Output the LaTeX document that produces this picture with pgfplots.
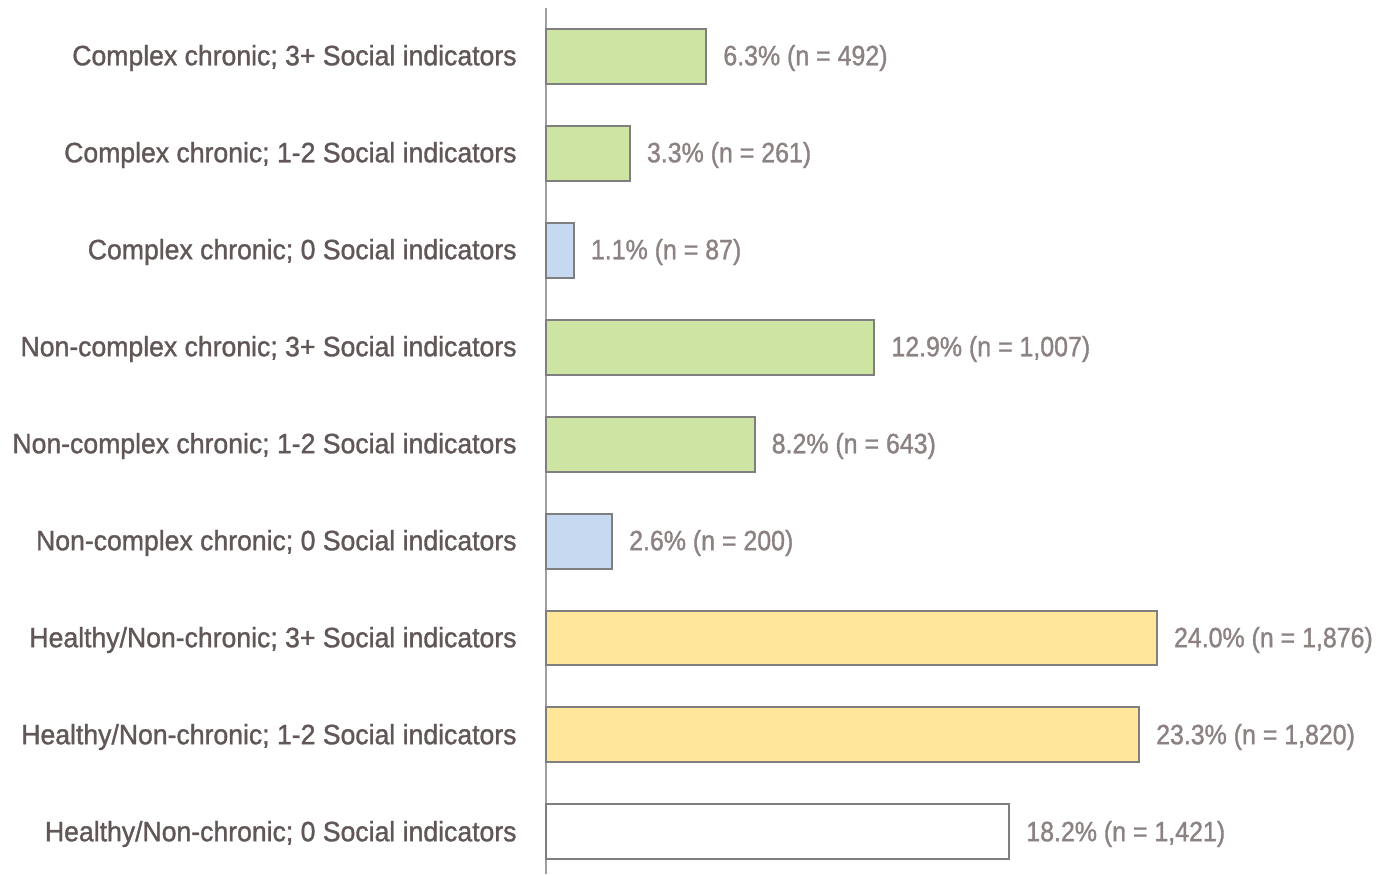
\documentclass[border=0pt]{standalone}
\usepackage{pgfplots}
\pgfplotsset{compat=1.18}
\usepackage{fontspec}
\setmainfont[FakeStretch=0.95, FakeBold=1.2]{Liberation Sans}
\newfontfamily\valfont[FakeStretch=0.89, FakeBold=1.2]{Liberation Sans}
\definecolor{labc}{HTML}{615757}
\definecolor{valc}{HTML}{8C8282}
\definecolor{gfill}{HTML}{CDE4A3}
\definecolor{bfill}{HTML}{C6D9F0}
\definecolor{yfill}{HTML}{FFE699}
\definecolor{edgec}{HTML}{7F7F7F}
\definecolor{axc}{HTML}{A0A0A0}
\begin{document}
\begin{tikzpicture}
\begin{axis}[
  scale only axis,
  width=416pt, height=433pt,
  xbar, bar shift=0pt, bar width=0.567,
  xmin=0, xmax=32.68,
  ymin=-0.495, ymax=8.433,
  y dir=reverse,
  hide x axis,
  axis y line*=left,
  axis line style={axc, line width=1pt},
  ytick={0,...,8},
  yticklabels={Complex chronic; 3+ Social indicators,
    Complex chronic; 1-2 Social indicators,
    Complex chronic; 0 Social indicators,
    Non-complex chronic; 3+ Social indicators,
    Non-complex chronic; 1-2 Social indicators,
    Non-complex chronic; 0 Social indicators,
    Healthy/Non-chronic; 3+ Social indicators,
    Healthy/Non-chronic; 1-2 Social indicators,
    Healthy/Non-chronic; 0 Social indicators},
  major tick length=0pt,
  yticklabel style={font=\fontsize{14}{16}\selectfont, text=labc, inner sep=0pt, anchor=east, xshift=-14.5pt, yshift=-1pt},
  point meta=explicit symbolic,
  nodes near coords,
  nodes near coords style={font=\valfont\fontsize{14}{16}\selectfont, text=valc, anchor=west, inner sep=0pt, xshift=8pt, yshift=-1pt},
  clip=false,
  every axis plot/.append style={draw=edgec, line width=1pt},
]
\addplot[fill=gfill] coordinates {
  (6.3,0) [{6.3\% (n = 492)}]
  (3.3,1) [{3.3\% (n = 261)}]
  (12.9,3) [{12.9\% (n = 1,007)}]
  (8.2,4) [{8.2\% (n = 643)}]
};
\addplot[fill=bfill] coordinates {
  (1.1,2) [{1.1\% (n = 87)}]
  (2.6,5) [{2.6\% (n = 200)}]
};
\addplot[fill=yfill] coordinates {
  (24.0,6) [{24.0\% (n = 1,876)}]
  (23.3,7) [{23.3\% (n = 1,820)}]
};
\addplot[fill=white] coordinates {
  (18.2,8) [{18.2\% (n = 1,421)}]
};
\end{axis}
\path (current axis.south west) ++(-273pt,0pt);
\path (current axis.north west) ++(0pt,4pt);
\path (current axis.north east);
\end{tikzpicture}
\end{document}
